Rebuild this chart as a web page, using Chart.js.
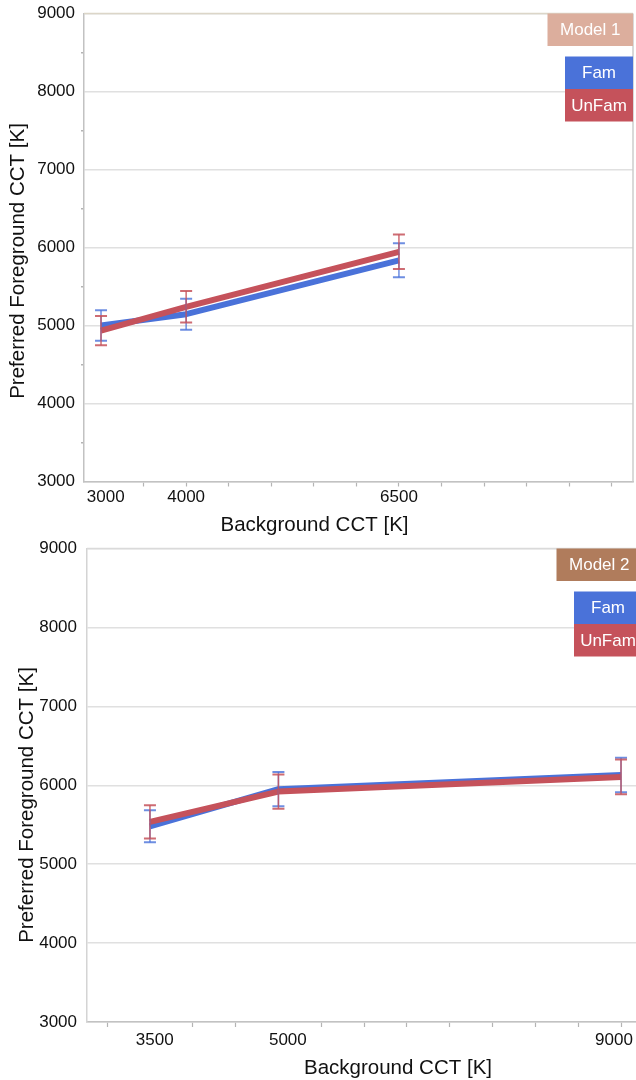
<!DOCTYPE html>
<html><head><meta charset="utf-8">
<script src="https://cdn.jsdelivr.net/npm/chart.js@4/dist/chart.umd.min.js"></script>
<style>
html,body{margin:0;padding:0;background:#fff;overflow:hidden;width:636px;height:1080px;position:relative}
#wrap1{position:absolute;left:0;top:0;width:636px;height:540px}
#wrap2{position:absolute;left:0;top:540px;width:646px;height:540px}
canvas{display:block}
</style></head><body>
<div id="wrap1"><canvas id="c1" width="636" height="540"></canvas></div>
<div id="wrap2"><canvas id="c2" width="646" height="540"></canvas></div>
<script>
// ---- data ----
const model1Cct      = [3000, 4000, 6500];
const model1Fam      = [5000, 5145, 5835];
const model1FamErr   = [195, 198, 218];
const model1UnFam    = [4935, 5240, 5945];
const model1UnFamErr = [188, 202, 222];

const model2Cct      = [3500, 5000, 9000];
const model2Fam      = [5480, 5950, 6130];
const model2FamErr   = [203, 217, 220];
const model2UnFam    = [5535, 5920, 6105];
const model2UnFamErr = [211, 217, 220];

const yTickLabels  = [3000, 4000, 5000, 6000, 7000, 8000, 9000];
const xTickLabels1 = [3000, 4000, 6500];
const xTickLabels2 = [3500, 5000, 9000];
const seriesNames  = ['Fam', 'UnFam'];
const modelNames   = ['Model 1', 'Model 2'];
const xTitle = 'Background CCT [K]';
const yTitle = 'Preferred Foreground CCT [K]';

// ---- styling ----
const FONT = '"Liberation Sans", Arial, Helvetica, sans-serif';
Chart.defaults.font.family = FONT;
const BLUE = '#4a72d9', RED = '#c5525b';
const BLUE_ERR = 'rgba(74,114,217,0.8)', RED_ERR = 'rgba(197,82,91,0.85)';

const errorBars = {
  id: 'errorBars',
  afterDatasetsDraw(chart) {
    const {ctx, scales: {x, y}} = chart;
    chart.data.datasets.forEach((ds) => {
      ctx.save();
      ctx.strokeStyle = ds.errorColor;
      ds.data.forEach((pt, j) => {
        const e = ds.errors[j];
        const px = x.getPixelForValue(pt.x);
        const t = y.getPixelForValue(pt.y + e);
        const b = y.getPixelForValue(pt.y - e);
        ctx.lineWidth = 1.5;
        ctx.beginPath(); ctx.moveTo(px, t); ctx.lineTo(px, b); ctx.stroke();
        ctx.lineWidth = 2;
        ctx.beginPath();
        ctx.moveTo(px - 6, t); ctx.lineTo(px + 6, t);
        ctx.moveTo(px - 6, b); ctx.lineTo(px + 6, b);
        ctx.stroke();
      });
      ctx.restore();
    });
  }
};

const frame = {
  id: 'frame',
  beforeDatasetsDraw(chart, args, o) {
    const {ctx, chartArea: a} = chart;
    ctx.save();
    ctx.lineWidth = 1.5;
    ctx.strokeStyle = o.topColor;
    ctx.beginPath(); ctx.moveTo(a.left, a.top); ctx.lineTo(a.right, a.top); ctx.stroke();
    ctx.strokeStyle = o.rightColor;
    ctx.beginPath(); ctx.moveTo(a.right, a.top); ctx.lineTo(a.right, a.bottom); ctx.stroke();
    ctx.restore();
  }
};

const boxLegend = {
  id: 'boxLegend',
  afterDraw(chart, args, o) {
    const {ctx, chartArea: a} = chart;
    ctx.save();
    ctx.font = '17px ' + FONT;
    ctx.textAlign = 'center';
    ctx.textBaseline = 'middle';
    const items = [{text: o.title, color: o.titleColor, w: 85.5, dy: 0}];
    chart.data.datasets.forEach((ds, i) => {
      items.push({text: ds.label, color: ds.borderColor, w: 68, dy: 43 + i * 32.5});
    });
    items.forEach(it => {
      const x0 = a.right - it.w, y0 = a.top + it.dy;
      ctx.fillStyle = it.color;
      ctx.fillRect(x0, y0, it.w, 32.5);
      ctx.fillStyle = '#ffffff';
      ctx.fillText(it.text, x0 + it.w / 2, y0 + 17);
    });
    ctx.restore();
  }
};

const axisTitles = {
  id: 'axisTitles',
  afterDraw(chart, args, o) {
    const ctx = chart.ctx;
    ctx.save();
    ctx.fillStyle = '#111';
    ctx.font = '20.5px ' + FONT;
    ctx.textAlign = 'center';
    ctx.textBaseline = 'middle';
    ctx.fillText(o.xText, o.xPos[0], o.xPos[1]);
    ctx.translate(o.yPos[0], o.yPos[1]);
    ctx.rotate(-Math.PI / 2);
    ctx.fillText(o.yText, 0, 0);
    ctx.restore();
  }
};

function stepTicks(scale) {
  const t = [];
  for (let v = 3000; v <= 9000; v += 500) t.push({value: v});
  scale.ticks = t;
}

function shiftLabel(v, n) {
  const pad = '\u00a0'.repeat(Math.abs(n || 0));
  return (n > 0 ? pad : '') + String(v) + (n < 0 ? pad : '');
}

function makeChart(id, cfg) {
  const series = [
    {name: seriesNames[0], vals: cfg.fam, errs: cfg.famErr, color: BLUE, err: BLUE_ERR, order: 1},
    {name: seriesNames[1], vals: cfg.unfam, errs: cfg.unfamErr, color: RED, err: RED_ERR, order: 0}
  ];
  return new Chart(document.getElementById(id), {
    type: 'line',
    data: {
      datasets: series.map(s => ({
        label: s.name,
        data: cfg.cct.map((c, i) => ({x: c, y: s.vals[i]})),
        errors: s.errs,
        errorColor: s.err,
        order: s.order,
        borderColor: s.color,
        backgroundColor: s.color,
        borderWidth: 6,
        pointRadius: 0,
        pointHoverRadius: 0,
        tension: 0,
        fill: false,
        borderJoinStyle: 'round'
      }))
    },
    options: {
      responsive: false,
      animation: false,
      events: [],
      layout: {padding: {top: cfg.padTop, right: cfg.padRight, left: 0, bottom: 0}},
      plugins: {
        legend: {display: false},
        tooltip: {enabled: false},
        frame: {topColor: cfg.topBorder, rightColor: '#cdcdcd'},
        boxLegend: {title: cfg.model, titleColor: cfg.modelColor},
        axisTitles: {xText: xTitle, yText: yTitle, xPos: cfg.xTitlePos, yPos: cfg.yTitlePos}
      },
      scales: {
        x: {
          type: 'linear',
          min: cfg.xMin, max: cfg.xMax,
          afterBuildTicks: stepTicks,
          afterFit: s => { s.height = cfg.xHeight; s.paddingLeft = 0; s.paddingRight = 0; },
          border: {color: '#c2c2c2', width: 1.5},
          grid: {
            drawOnChartArea: false, drawTicks: true, tickLength: 5, tickWidth: 1.2,
            tickColor: c => cfg.hiddenTicks.includes(c.tick && c.tick.value) ? 'rgba(0,0,0,0)' : '#b4b4b4'
          },
          ticks: {
            autoSkip: false, maxRotation: 0, minRotation: 0, padding: cfg.xPad,
            color: '#111', font: {size: 17},
            callback: v => cfg.xLabels.includes(v) ? shiftLabel(v, cfg.labelShift[v]) : ''
          }
        },
        y: {
          min: 3000, max: 9000,
          afterBuildTicks: stepTicks,
          afterFit: s => { s.width = cfg.yWidth; s.paddingTop = 0; s.paddingBottom = 0; },
          border: {color: cfg.yBorder, width: 1.5},
          grid: {
            drawTicks: true, tickLength: 3, lineWidth: 1.5,
            color: c => yTickLabels.includes(c.tick && c.tick.value) ? '#e0e0e0' : 'rgba(0,0,0,0)',
            tickColor: c => (!cfg.minorY || yTickLabels.includes(c.tick && c.tick.value)) ? 'rgba(0,0,0,0)' : '#b4b4b4'
          },
          ticks: {
            padding: cfg.yPad, color: '#111', font: {size: 17},
            callback: v => yTickLabels.includes(v) ? String(v) : ''
          }
        }
      }
    },
    plugins: [frame, errorBars, boxLegend, axisTitles]
  });
}

makeChart('c1', {
  cct: model1Cct, fam: model1Fam, famErr: model1FamErr, unfam: model1UnFam, unfamErr: model1UnFamErr,
  xLabels: xTickLabels1, hiddenTicks: [3000], labelShift: {3000: 2},
  model: modelNames[0], modelColor: '#dcae9d',
  xMin: 2800, xMax: 9250, padTop: 13.5, padRight: 3, xHeight: 58.5, yWidth: 84,
  xPad: 1, yPad: 6, minorY: true, topBorder: '#dcd6c8', yBorder: '#c2c2c2',
  xTitlePos: [314.5, 525], yTitlePos: [18.5, 261]
});

makeChart('c2', {
  cct: model2Cct, fam: model2Fam, famErr: model2FamErr, unfam: model2UnFam, unfamErr: model2UnFamErr,
  xLabels: xTickLabels2, hiddenTicks: [3500, 5000], labelShift: {3500: 2, 5000: 4, 9000: -3},
  model: modelNames[1], modelColor: '#b07c5c',
  xMin: 2765, xMax: 9245, padTop: 8.5, padRight: 4, xHeight: 58, yWidth: 87,
  xPad: 3, yPad: 7, minorY: false, topBorder: '#dadada', yBorder: '#d4d4d4',
  xTitlePos: [398, 528], yTitlePos: [27.5, 265]
});
</script>
</body></html>
